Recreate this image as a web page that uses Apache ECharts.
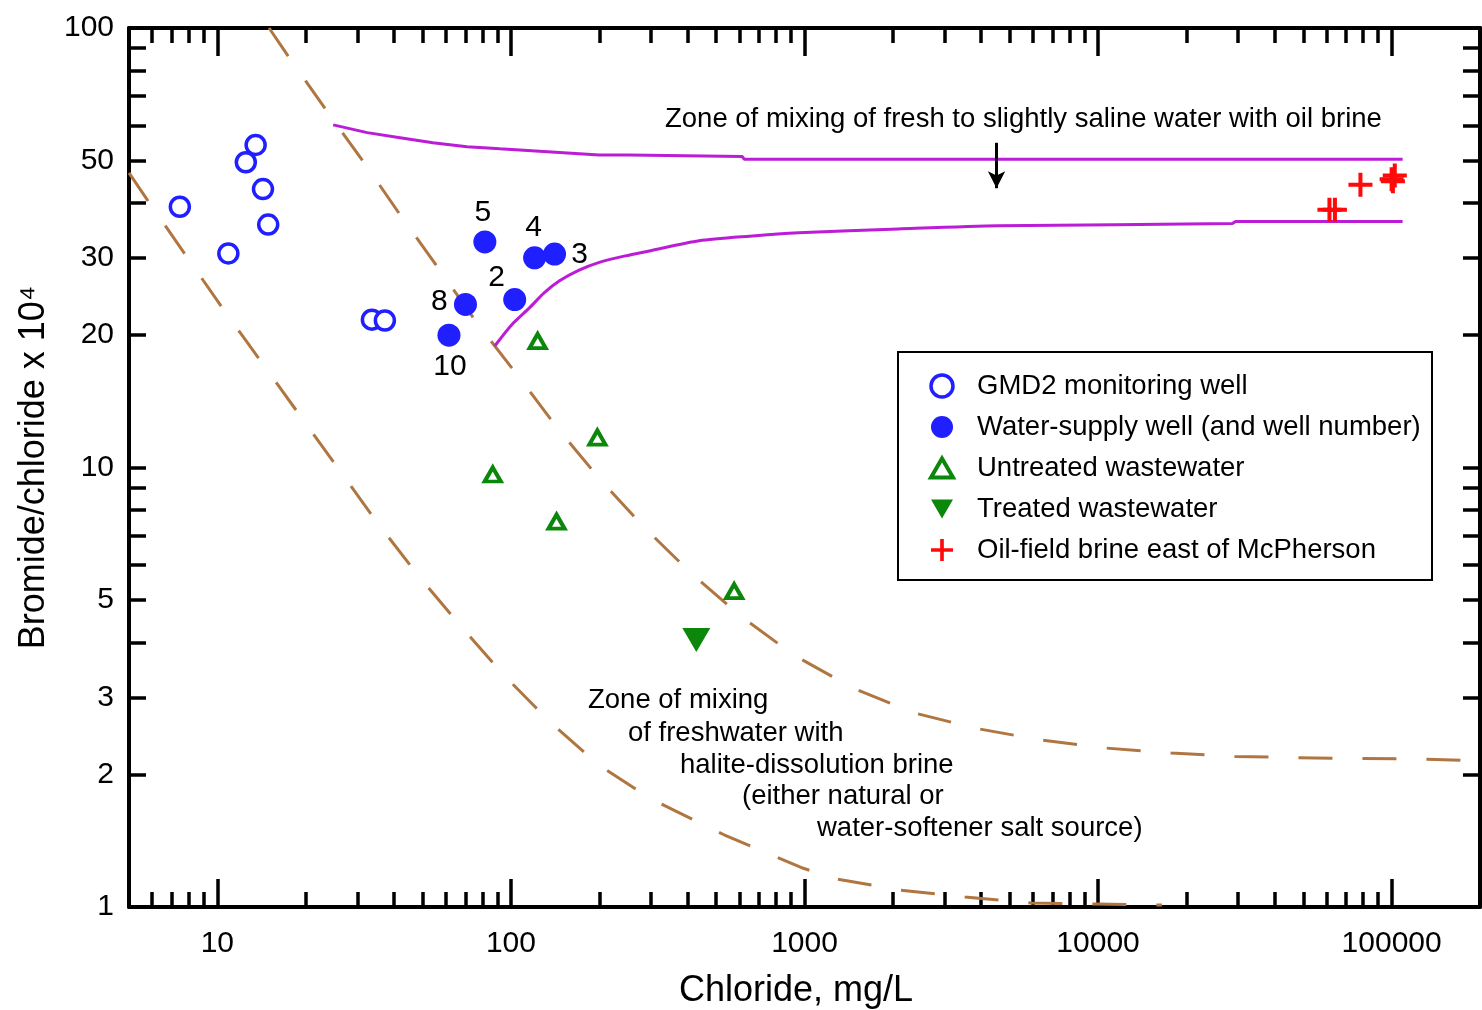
<!DOCTYPE html>
<html><head><meta charset="utf-8">
<script src="https://cdn.jsdelivr.net/npm/echarts@6/dist/echarts.min.js"></script>
<style>html,body{margin:0;padding:0;background:#fff}#c{width:1482px;height:1010px}</style>
</head><body><div id="c"></div>
<script>
// ---------- data ----------
const gmd2Chloride = [7.45, 13.5, 12.5, 14.3, 14.9, 10.9, 33.6, 37.2];
const gmd2Ratio    = [39.2, 54.2, 49.5, 43.0, 35.7, 30.7, 21.7, 21.6];

const supplyWellNumbers = ['5', '4', '3', '2', '8', '10'];
const supplyChloride    = [81.5, 120.4, 140.8, 103, 70, 61.5];
const supplyRatio       = [32.6, 30.0, 30.6, 24.1, 23.5, 20.0];

const untreatedChloride = [123.3, 197, 86.7, 143, 576];
const untreatedRatio    = [19.4, 11.7, 9.64, 7.53, 5.23];

const treatedChloride = [428];
const treatedRatio    = [4.05];

const brineChloride = [61400, 64100, 78300, 100000, 102500, 101000];
const brineRatio    = [38.6, 38.6, 44.0, 45.3, 46.2, 44.8];

// mixing curves (fresh / slightly saline water with oil brine)
const oilUpperChloride = [24.8, 32.4, 41.9, 54.2, 70.8, 91.6, 200, 253, 257, 614, 623, 109000];
const oilUpperRatio    = [60.2, 57.8, 56.3, 54.8, 53.7, 53.1, 51.4, 51.4, 51.0, 51.0, 50.3, 50.3];
const oilLowerChloride = [88.1, 100.5, 115.8, 130, 146.4, 170, 200, 245, 296, 437, 650, 957, 2094, 4580, 28600, 29500, 109000];
const oilLowerRatio    = [18.9, 21.1, 23.1, 25.0, 26.6, 28.1, 29.3, 30.3, 31.1, 32.8, 33.6, 34.2, 34.9, 35.5, 35.9, 36.3, 36.3];

// mixing curves (freshwater with halite-dissolution brine)
const haliteUpperChloride = [15.0, 17.7, 23.3, 31.8, 41.9, 57.3, 77.1, 105.4, 145.3, 203, 287, 415, 614, 921, 1462, 2339, 3828, 6368, 10590, 17750, 29260, 63000, 127400, 200000];
const haliteUpperRatio    = [100, 85.0, 65.5, 49.1, 37.6, 28.1, 21.2, 16.2, 12.2, 9.33, 7.26, 5.71, 4.56, 3.74, 3.15, 2.77, 2.55, 2.40, 2.30, 2.24, 2.20, 2.18, 2.17, 2.15];
const haliteLowerChloride = [5, 5.78, 7.91, 10.48, 12.2, 35.2, 48.2, 68.0, 94.5, 136.5, 200, 296, 532, 973, 1271, 2114, 3516, 5933, 9860, 16500];
const haliteLowerRatio    = [46.8, 40.6, 30.0, 22.9, 19.9, 7.46, 5.69, 4.33, 3.37, 2.63, 2.10, 1.77, 1.46, 1.23, 1.16, 1.093, 1.054, 1.021, 1.016, 1.01];

// arrow (chloride, ratio start -> end)
const arrowChloride = [4510, 4510];
const arrowRatio    = [54.8, 43.2];

// axes
const xTickLabels = [10, 100, 1000, 10000, 100000];
const xMajorTicks = [10, 100, 1000, 10000, 100000];
const xMinorTicks = [6, 7, 8, 9, 20, 30, 40, 50, 60, 70, 80, 90, 200, 300, 400, 500, 600, 700, 800, 900,
  2000, 3000, 4000, 5000, 6000, 7000, 8000, 9000, 20000, 30000, 40000, 50000, 60000, 70000, 80000, 90000];
const yTickLabels = [1, 2, 3, 5, 10, 20, 30, 50, 100];
const yTicks = [1, 2, 3, 4, 5, 6, 7, 8, 9, 10, 20, 30, 40, 50, 60, 70, 80, 90, 100];

const legendNames = ['GMD2 monitoring well', 'Water-supply well (and well number)', 'Untreated wastewater', 'Treated wastewater', 'Oil-field brine east of McPherson'];

// ---------- styles ----------
const FONT = '"Liberation Sans", Arial, Helvetica, sans-serif';
const INK = '#000';
const BLUE = '#1f1fff', GREEN = '#0b870b', RED = '#ff0a0a', MAGENTA = '#bb1cd6', BROWN = '#b07641';
const PLUS = 'path://M-2,-12H2V-2H12V2H2V12H-2V2H-12V-2H-2Z';
const DOWN = 'path://M0,0L10,0L5,8.6Z';
const UP = 'path://M5,0L10,8.6L0,8.6Z';
const supplyLabelOffset = [[-2, -29], [-1, -30], [25, 1], [-18, -22], [-26, -3], [1, 32]];

const zip = (a, b) => a.map((v, i) => [v, b[i]]);

function xAx(pos, ticks, len, showLine, showLabel) {
  return {
    type: 'log', logBase: 10, min: 5, max: 200000, position: pos,
    axisLine: {show: showLine, lineStyle: {color: '#000', width: 4}},
    axisTick: {show: true, inside: true, length: len, customValues: ticks, lineStyle: {color: '#000', width: 3.5}},
    axisLabel: {show: showLabel, customValues: xTickLabels, formatter: v => String(v), margin: 22,
      fontSize: 30, color: INK, fontFamily: FONT},
    splitLine: {show: false}, minorTick: {show: false}, minorSplitLine: {show: false}
  };
}
function yAx(pos, showLabel) {
  return {
    type: 'log', logBase: 10, min: 1, max: 100, position: pos,
    axisLine: {show: true, lineStyle: {color: '#000', width: 4}},
    axisTick: {show: true, inside: true, length: 17, customValues: yTicks, lineStyle: {color: '#000', width: 3.5}},
    axisLabel: {show: showLabel, customValues: yTickLabels, formatter: v => String(v), margin: 15,
      fontSize: 30, color: INK, fontFamily: FONT},
    splitLine: {show: false}, minorTick: {show: false}, minorSplitLine: {show: false}
  };
}

const xAxes = [xAx('bottom', xMinorTicks, 15, true, true), xAx('bottom', xMajorTicks, 28, false, false),
               xAx('top', xMinorTicks, 15, true, false), xAx('top', xMajorTicks, 28, false, false)];
Object.assign(xAxes[0], {name: 'Chloride, mg/L', nameLocation: 'middle', nameGap: 66,
  nameTextStyle: {fontSize: 36, color: INK, fontFamily: FONT, padding: [0, 17, 0, 0]}});
const yAxes = [yAx('left', true), yAx('right', false)];
Object.assign(yAxes[0], {name: 'Bromide/chloride x 10\u2074', nameLocation: 'middle', nameGap: 77, nameRotate: 90,
  nameTextStyle: {fontSize: 36, color: INK, fontFamily: FONT}});

const curve = (name, xs, ys, color, dashed, smooth) => ({
  type: 'line', name, data: zip(xs, ys), showSymbol: false, symbol: 'none', silent: true, z: 2,
  smooth: smooth || false,
  lineStyle: {color, width: 3, type: dashed ? [34, 30] : 'solid', cap: 'butt', opacity: 1}, clip: true
});

const txt = (x, y, s) => ({type: 'text', x, y, style: {text: s, fontSize: 27.5, fontFamily: FONT, fill: INK, verticalAlign: 'middle'}});

const option = {
  animation: false,
  backgroundColor: '#fff',
  textStyle: {fontFamily: FONT},
  grid: {left: 129, top: 28, right: 2, bottom: 103, outerBoundsMode: 'none'},
  xAxis: xAxes,
  yAxis: yAxes,
  legend: {
    orient: 'vertical', left: 929, top: 371, padding: 0, itemGap: 11,
    itemWidth: 22, itemHeight: 22, selectedMode: false,
    textStyle: {fontSize: 27.5, color: INK, fontFamily: FONT, padding: [0, 0, 0, 19], lineHeight: 30},
    data: [
      {name: legendNames[0], icon: 'circle', itemStyle: {color: '#fff', borderColor: BLUE, borderWidth: 3.5, opacity: 1}},
      {name: legendNames[1], icon: 'circle', itemStyle: {color: BLUE, borderWidth: 0, opacity: 1}},
      {name: legendNames[2], icon: UP, itemStyle: {color: '#fff', borderColor: GREEN, borderWidth: 4, opacity: 1}},
      {name: legendNames[3], icon: DOWN, itemStyle: {color: GREEN, borderWidth: 0, opacity: 1}},
      {name: legendNames[4], icon: PLUS, itemStyle: {color: RED, borderWidth: 0, opacity: 1}}
    ]
  },
  graphic: [
    {type: 'rect', shape: {x: 898, y: 352, width: 534, height: 228}, style: {fill: null, stroke: '#000', lineWidth: 2}, z: 10},
    txt(665, 119, 'Zone of mixing of fresh to slightly saline water with oil brine'),
    txt(588, 700, 'Zone of mixing'),
    txt(628, 733, 'of freshwater with'),
    txt(680, 765, 'halite-dissolution brine'),
    txt(742, 796, '(either natural or'),
    txt(817, 828, 'water-softener salt source)')
  ],
  series: [
    curve('halite upper', haliteUpperChloride, haliteUpperRatio, BROWN, true, false),
    curve('halite lower', haliteLowerChloride, haliteLowerRatio, BROWN, true, false),
    Object.assign(curve('oil upper', oilUpperChloride, oilUpperRatio, MAGENTA, false, false), {
      markLine: {silent: true, symbol: ['none', 'arrow'], symbolSize: [13, 17], label: {show: false},
        lineStyle: {color: '#000', width: 3, type: 'solid', opacity: 1},
        data: [[{coord: [arrowChloride[0], arrowRatio[0]]}, {coord: [arrowChloride[1], arrowRatio[1]]}]]}
    }),
    curve('oil lower', oilLowerChloride, oilLowerRatio, MAGENTA, false, 0.25),
    {type: 'scatter', name: legendNames[0], data: zip(gmd2Chloride, gmd2Ratio), symbol: 'circle', symbolSize: 19, z: 5,
      itemStyle: {color: '#fff', borderColor: BLUE, borderWidth: 3.5, opacity: 1}},
    {type: 'scatter', name: legendNames[1], symbol: 'circle', symbolSize: 23, z: 5,
      itemStyle: {color: BLUE, opacity: 1},
      data: supplyChloride.map((x, i) => ({value: [x, supplyRatio[i]], name: supplyWellNumbers[i],
        label: {show: true, position: 'inside', offset: supplyLabelOffset[i], formatter: supplyWellNumbers[i],
          fontSize: 30, color: INK, fontFamily: FONT}}))},
    {type: 'scatter', name: legendNames[2], data: zip(untreatedChloride, untreatedRatio), symbol: UP, symbolSize: [16, 14], z: 5,
      itemStyle: {color: '#fff', borderColor: GREEN, borderWidth: 4, opacity: 1}},
    {type: 'scatter', name: legendNames[3], data: zip(treatedChloride, treatedRatio), symbol: DOWN, symbolSize: [28, 24], z: 5,
      itemStyle: {color: GREEN, opacity: 1}},
    {type: 'scatter', name: legendNames[4], data: zip(brineChloride, brineRatio), symbol: PLUS, symbolSize: 24, z: 5,
      itemStyle: {color: RED, opacity: 1}}
  ]
};

const chart = echarts.init(document.getElementById('c'), null, {renderer: 'canvas'});
chart.setOption(option);
</script>
</body></html>
